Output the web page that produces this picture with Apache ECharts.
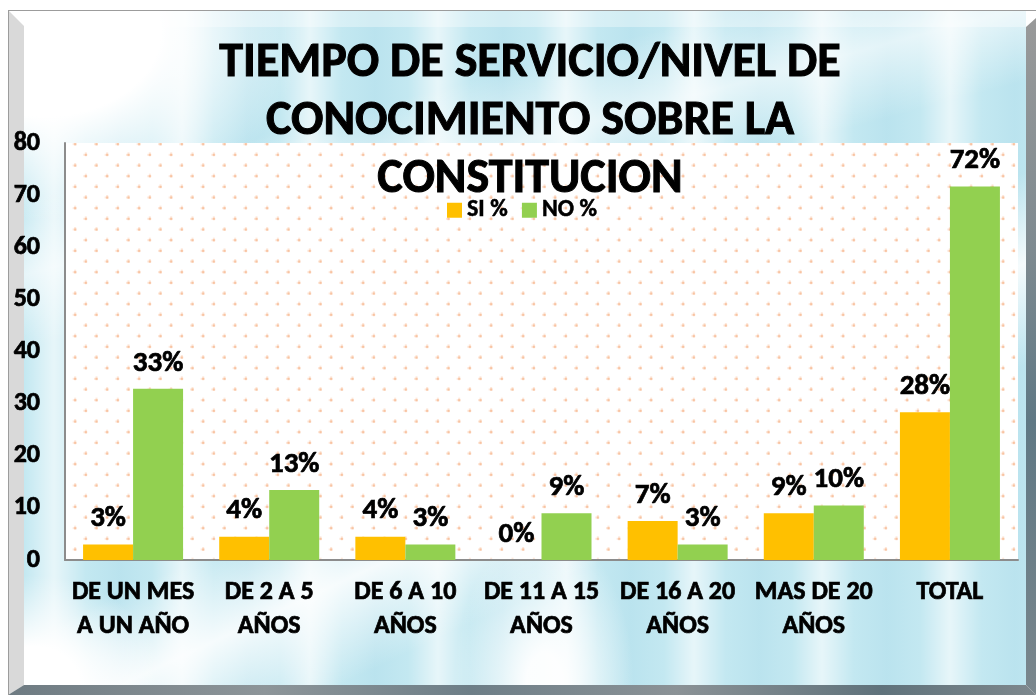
<!DOCTYPE html>
<html>
<head>
<meta charset="utf-8">
<script src="https://cdn.jsdelivr.net/npm/echarts@6/dist/echarts.min.js"></script>
<style>
  html, body { margin: 0; padding: 0; background: #ffffff; }
  #stage { position: relative; width: 1036px; height: 695px; overflow: hidden; background: #ffffff; }
  .piece { position: absolute; }
  /* watercolour-like panel behind the chart */
  #panel {
    left: 24px; top: 11px; width: 1002px; height: 674px;
    background:
      radial-gradient(ellipse 260px 190px at 20px 20px, #ffffff 45%, rgba(255,255,255,0) 100%),
      radial-gradient(ellipse 130px 110px at 10px 674px, #ffffff 35%, rgba(255,255,255,0) 100%),
      radial-gradient(ellipse 90px 160px at 520px 674px, rgba(255,255,255,0.95) 20%, rgba(255,255,255,0) 100%),
      linear-gradient(155deg, rgba(255,255,255,0) 55%, rgba(255,255,255,0.85) 63%, rgba(255,255,255,0) 72%),
      linear-gradient(165deg, rgba(255,255,255,0) 20%, rgba(255,255,255,0.6) 28%, rgba(255,255,255,0) 36%),
      repeating-linear-gradient(90deg, rgba(255,255,255,0) 0px, rgba(255,255,255,0.6) 30px, rgba(255,255,255,0) 62px, rgba(166,216,232,0.3) 95px, rgba(255,255,255,0) 128px),
      #c3e8f1;
  }
  #topStrip { left: 24px; top: 11px; width: 1002px; height: 16px; background: rgba(255,255,255,0.35); }
  #leftStrip { left: 8px; top: 10px; width: 16px; height: 685px; background: #d9d9d9;
    clip-path: polygon(0 0, 16px 16px, 16px 675px, 0 685px); }
  #rightStrip { left: 1026px; top: 10px; width: 10px; height: 685px;
    background: linear-gradient(180deg, #9a9a9a 0%, #7e8a90 35%, #5f7884 60%, #7a868c 100%);
    clip-path: polygon(0 17px, 10px 8px, 10px 685px, 0 675px); }
  #bottomStrip { left: 8px; top: 685px; width: 1028px; height: 10px;
    background: linear-gradient(90deg, #6e7b82 0%, #8d9599 25%, #6d7e87 45%, #8b9296 65%, #5f727b 85%, #7e888d 100%);
    clip-path: polygon(16px 0, 1018px 0, 1028px 10px, 0 10px); }
  #outline { left: 8px; top: 10px; width: 1028px; height: 685px; box-sizing: border-box;
    border-top: 1px solid #9c9c9c; border-left: 1px solid #9c9c9c; }
  #chart { position: absolute; left: 0; top: 0; width: 1036px; height: 695px; }
</style>
</head>
<body>
<div id="stage">
  <div class="piece" id="panel"></div>
  <div class="piece" id="topStrip"></div>
  <div class="piece" id="leftStrip"></div>
  <div class="piece" id="rightStrip"></div>
  <div class="piece" id="bottomStrip"></div>
  <div class="piece" id="outline"></div>
  <div id="chart"></div>
</div>
<script>
// Tiempo de servicio vs. conocimiento sobre la Constitución (porcentaje del total)
const categories = [
  'DE UN MES\nA UN AÑO',
  'DE 2 A 5\nAÑOS',
  'DE 6 A 10\nAÑOS',
  'DE 11 A 15\nAÑOS',
  'DE 16 A 20\nAÑOS',
  'MAS DE 20\nAÑOS',
  'TOTAL'
];
const siValues = [2.99, 4.48, 4.48, 0, 7.46, 8.96, 28.36];
const noValues = [32.84, 13.43, 2.99, 8.96, 2.99, 10.45, 71.64];
const seriesNames = ['SI %', 'NO %'];
const yTicks = { min: 0, max: 80, interval: 10 };

const FONT = "Carlito, Lato, 'Noto Sans', sans-serif";

// bold text with a thin outline of the same colour for a heavier stroke
const heavy = (size, extra) => Object.assign({
  color: '#000',
  fontFamily: FONT,
  fontWeight: 900,
  fontSize: size,
  textBorderColor: '#000',
  textBorderWidth: 0.7
}, extra || {});

// dotted fill for the plotting area
function makeDotTile() {
  const c = document.createElement('canvas');
  c.width = 64; c.height = 64;
  const g = c.getContext('2d');
  g.fillStyle = '#ffffff';
  g.fillRect(0, 0, 64, 64);
  const step = 64 / 3;
  for (let r = 0; r < 6; r++) {
    for (let k = 0; k < 4; k++) {
      const x = k * step + (r % 2 ? step / 2 : 0);
      const y = r * step / 2 + 5;
      g.fillStyle = 'rgba(250,205,175,0.45)';
      g.fillRect(x - 2, y - 0.5, 4, 2);
      g.fillRect(x - 0.5, y - 2, 2, 4);
      g.fillStyle = 'rgba(247,185,145,0.7)';
      g.fillRect(x - 0.5, y - 0.5, 2, 2);
    }
  }
  return c;
}

const chart = echarts.init(document.getElementById('chart'), null, { renderer: 'canvas' });

const labelStyle = heavy(29, {
  show: true,
  position: 'top',
  distance: 11,
  formatter: p => Math.round(p.value) + '%'
});

chart.setOption({
  animation: false,
  backgroundColor: 'transparent',
  title: {
    text: 'TIEMPO DE SERVICIO/NIVEL DE\nCONOCIMIENTO SOBRE LA\nCONSTITUCION',
    left: 525,
    top: 30,
    textAlign: 'center',
    textStyle: heavy(48, { lineHeight: 58, textBorderWidth: 1 })
  },
  legend: {
    data: seriesNames,
    left: 442,
    top: 193,
    icon: 'rect',
    itemWidth: 15,
    itemHeight: 15,
    itemGap: 14,
    textStyle: heavy(24, { textBorderWidth: 0.5 })
  },
  grid: {
    left: 65,
    right: 18,
    top: 143,
    bottom: 135,
    show: true,
    borderWidth: 0,
    backgroundColor: { image: makeDotTile(), repeat: 'repeat' }
  },
  xAxis: {
    type: 'category',
    data: categories,
    axisLine: { show: true, lineStyle: { color: '#8c8c8c', width: 2 } },
    axisTick: { show: false },
    axisLabel: heavy(26, { interval: 0, margin: 15, lineHeight: 34 })
  },
  yAxis: {
    type: 'value',
    min: yTicks.min,
    max: yTicks.max,
    interval: yTicks.interval,
    axisLine: { show: true, lineStyle: { color: '#8c8c8c', width: 2 } },
    axisTick: { show: false },
    splitLine: { show: false },
    axisLabel: heavy(26, { margin: 25 })
  },
  series: [
    {
      name: seriesNames[0],
      type: 'bar',
      data: siValues,
      barWidth: 50,
      barGap: '0%',
      itemStyle: { color: '#FFC000' },
      label: labelStyle
    },
    {
      name: seriesNames[1],
      type: 'bar',
      data: noValues,
      barWidth: 50,
      barGap: '0%',
      itemStyle: { color: '#92D050' },
      label: labelStyle
    }
  ]
});
</script>
</body>
</html>
